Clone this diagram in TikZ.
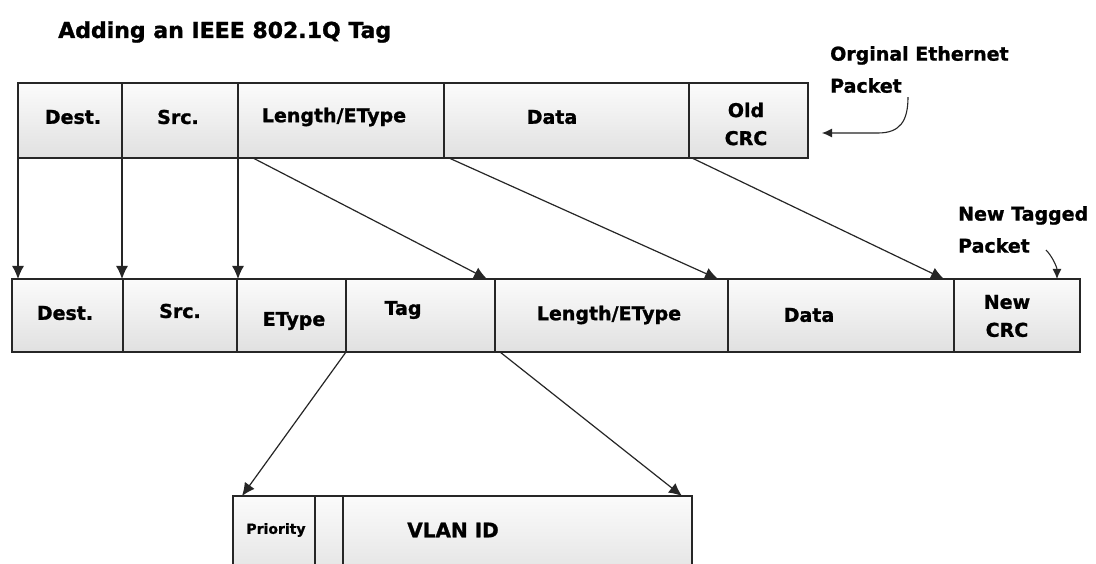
\documentclass[tikz,border=0pt]{standalone}
\usepackage{fontspec}
\setmainfont{DejaVu Sans}[BoldFeatures={FakeBold=1.2}]
\usetikzlibrary{arrows.meta}
\begin{document}
\begin{tikzpicture}[x=1pt,y=-1pt,
  cell/.style={draw=black!85, line width=1.5pt, top color=gray!3, bottom color=gray!24, inner sep=0pt, outer sep=0pt, anchor=north west},
  lbl/.style={font=\bfseries\fontsize{19}{28}\selectfont, inner sep=0pt, align=center},
  small/.style={font=\bfseries\fontsize{14}{18}\selectfont, inner sep=0pt},
  arr/.style={draw=black!85, line width=1.2pt, -{Latex[length=13pt,width=12pt]}},
  thinarr/.style={draw=black!85, line width=1.1pt, -{Latex[length=10pt,width=9pt]}},
  note/.style={font=\bfseries\fontsize{19}{32}\selectfont, align=left, inner sep=0pt, anchor=north west}
]
\useasboundingbox (0,0) rectangle (1096,564);
\fill[white] (0,0) rectangle (1096,564);

% title
\node[font=\bfseries\fontsize{22}{26}\selectfont, anchor=west, inner sep=0pt] (title) at (58,32) {Adding an IEEE 802.1Q Tag};

% original packet
\node[cell, minimum width=104pt, minimum height=75pt] (t1) at (18,83) {};
\node[cell, minimum width=116pt, minimum height=75pt] (t2) at (122,83) {};
\node[cell, minimum width=206pt, minimum height=75pt] (t3) at (238,83) {};
\node[cell, minimum width=245pt, minimum height=75pt] (t4) at (444,83) {};
\node[cell, minimum width=119pt, minimum height=75pt] (t5) at (689,83) {};
\node[lbl] (lt1) at (73,117) {Dest.};
\node[lbl] (lt2) at (178,117) {Src.};
\node[lbl] (lt3) at (334,117) {Length/EType};
\node[lbl] (lt4) at (552,117) {Data};
\node[lbl] (lt5) at (746,124) {Old\\CRC};

% new tagged packet
\node[cell, minimum width=111pt, minimum height=73pt] (m1) at (12,279) {};
\node[cell, minimum width=114pt, minimum height=73pt] (m2) at (123,279) {};
\node[cell, minimum width=109pt, minimum height=73pt] (m3) at (237,279) {};
\node[cell, minimum width=149pt, minimum height=73pt] (m4) at (346,279) {};
\node[cell, minimum width=233pt, minimum height=73pt] (m5) at (495,279) {};
\node[cell, minimum width=226pt, minimum height=73pt] (m6) at (728,279) {};
\node[cell, minimum width=126pt, minimum height=73pt] (m7) at (954,279) {};
\node[lbl] (lm1) at (65,313) {Dest.};
\node[lbl] (lm2) at (180,311) {Src.};
\node[lbl] (lm3) at (294,321) {EType};
\node[lbl] (lm4) at (403,310) {Tag};
\node[lbl] (lm5) at (609,315) {Length/EType};
\node[lbl] (lm6) at (809,315) {Data};
\node[lbl] (lm7) at (1007,316) {New\\CRC};

% tag detail
\node[cell, minimum width=82pt, minimum height=90pt] (b1) at (233,496) {};
\node[cell, minimum width=28pt, minimum height=90pt] (b2) at (315,496) {};
\node[cell, minimum width=349pt, minimum height=90pt] (b3) at (343,496) {};
\node[small] (lb1) at (276,530) {Priority};
\node[lbl, font=\bfseries\fontsize{20}{24}\selectfont] (lb3) at (453,530) {VLAN ID};

% vertical copies
\draw[arr] (t1.south west) -- (t1.south west |- m1.north);
\draw[arr] (t2.south west) -- (t2.south west |- m2.north);
\draw[arr] (t3.south west) -- (t3.south west |- m3.north);

% shifted fields
\draw[arr] ([xshift=15pt]t3.south west) -- ([xshift=-8pt]m5.north west);
\draw[arr] ([xshift=5pt]t4.south west) -- ([xshift=-10pt]m6.north west);
\draw[arr] ([xshift=3pt]t5.south west) -- ([xshift=-10pt]m7.north west);

% tag expansion
\draw[arr] (m4.south west) -- ([xshift=9pt]b1.north west);
\draw[arr] ([xshift=5pt]m5.south west) -- ([xshift=-10pt]b3.north east);

% annotations
\node[note] (orig) at (830,46) {Orginal Ethernet\\Packet};
\coordinate (oe) at (822,133);
\draw[thinarr] ([xshift=78pt,yshift=-4pt]orig.south west) .. controls +(0,24) and +(22,0) .. (878,133) -- (oe);

\node[note] (newt) at (958,206) {New Tagged\\Packet};
\draw[thinarr] ([xshift=88pt,yshift=-44pt]newt.north west) .. controls +(6,6) and +(0,-12) .. ([xshift=-23pt]m7.north east);
\end{tikzpicture}
\end{document}
